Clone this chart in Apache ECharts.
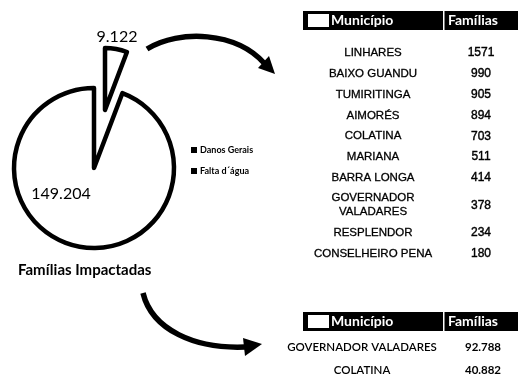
<!DOCTYPE html>
<html>
<head>
<meta charset="utf-8">
<script src="https://cdn.jsdelivr.net/npm/echarts@6/dist/echarts.min.js"></script>
<style>html,body{margin:0;padding:0;background:#fff;}#c{width:518px;height:384px;}</style>
</head>
<body>
<div id="c"></div>
<script>
// ---- data ----
const sliceNames = ['Falta d\u00b4\u00e1gua', 'Danos Gerais'];
const sliceValues = [9122, 149204];
const legendOrder = ['Danos Gerais', 'Falta d\u00b4\u00e1gua'];
const chartTitle = 'Fam\u00edlias Impactadas';

const headerCols = ['Munic\u00edpio', 'Fam\u00edlias'];
const topMunicipios = ['LINHARES', 'BAIXO GUANDU', 'TUMIRITINGA', 'AIMOR\u00c9S', 'COLATINA', 'MARIANA', 'BARRA LONGA', 'GOVERNADOR\nVALADARES', 'RESPLENDOR', 'CONSELHEIRO PENA'];
const topFamilias = [1571, 990, 905, 894, 703, 511, 414, 378, 234, 180];
const bottomMunicipios = ['GOVERNADOR VALADARES', 'COLATINA'];
const bottomFamilias = [92788, 40882];

function fmt(v) { return String(v).replace(/\B(?=(\d{3})+(?!\d))/g, '.'); }

const chart = echarts.init(document.getElementById('c'), null, {renderer: 'canvas'});

const hidden = {color: 'rgba(0,0,0,0)', borderWidth: 0};
const shown = {color: '#fff', borderColor: '#000', borderWidth: 4.5};
const numFont = {fontFamily: 'Lato', fontSize: 16, color: '#000'};

function pieData(visibleIdx) {
  return sliceNames.map((n, i) => ({
    name: n, value: sliceValues[i],
    itemStyle: i === visibleIdx ? shown : hidden,
    label: i === visibleIdx ? Object.assign({show: true, position: 'center', formatter: p => fmt(p.value)}, numFont) : {show: false}
  }));
}

// ---- table graphics ----
const g = [];
function header(top, left) {
  g.push({type: 'rect', shape: {x: left, y: top, width: 518 - left, height: 19}, style: {fill: '#000'}});
  g.push({type: 'rect', shape: {x: 308, y: top + 3, width: 21, height: 13}, style: {fill: '#fff'}});
  g.push({type: 'rect', shape: {x: 443, y: top, width: 1.5, height: 19}, style: {fill: '#fff'}});
  g.push({type: 'text', x: 331, y: top + 9.5, style: {text: headerCols[0], fill: '#fff', font: 'bold 14px Lato', verticalAlign: 'middle'}});
  g.push({type: 'text', x: 448, y: top + 9.5, style: {text: headerCols[1], fill: '#fff', font: 'bold 14px Lato', verticalAlign: 'middle'}});
}
header(11, 303);
let y = 53, prevH = 0;
topMunicipios.forEach((m, i) => {
  const h = m.indexOf('\n') >= 0 ? 34 : 20.8;
  if (i > 0) y += (prevH + h) / 2;
  prevH = h;
  g.push({type: 'text', x: 373, y: y, style: {text: m, fill: '#000', font: '11.5px "Liberation Sans"', align: 'center', verticalAlign: 'middle', lineHeight: 14, stroke: '#000', lineWidth: 0.3}});
  g.push({type: 'text', x: 481, y: y, style: {text: String(topFamilias[i]), fill: '#000', font: '12px "Liberation Sans"', align: 'center', verticalAlign: 'middle', stroke: '#000', lineWidth: 0.4}});
});
header(312, 303);
bottomMunicipios.forEach((m, i) => {
  const yy = 347 + i * 23;
  g.push({type: 'text', x: 362, y: yy, style: {text: m, fill: '#000', font: '600 11.5px Lato', align: 'center', verticalAlign: 'middle'}});
  g.push({type: 'text', x: 483, y: yy, style: {text: fmt(bottomFamilias[i]), fill: '#000', font: 'bold 11.5px Lato', align: 'center', verticalAlign: 'middle'}});
});
// arrows
g.push({type: 'bezierCurve', shape: {x1: 147, y1: 49, cpx1: 180, cpy1: 29, cpx2: 236, cpy2: 32, x2: 264, y2: 63}, style: {stroke: '#000', lineWidth: 5.5, fill: null}});
g.push({type: 'polygon', shape: {points: [[275, 74], [258, 68], [269, 56]]}, style: {fill: '#000'}});
g.push({type: 'bezierCurve', shape: {x1: 143, y1: 293, cpx1: 152, cpy1: 330, cpx2: 195, cpy2: 349, x2: 245, y2: 347}, style: {stroke: '#000', lineWidth: 5.5, fill: null}});
g.push({type: 'polygon', shape: {points: [[262, 344], [243, 338], [245, 356]]}, style: {fill: '#000'}});

chart.setOption({
  animation: false,
  title: {text: chartTitle, left: 18, top: 263, padding: 0, textStyle: {fontFamily: 'Lato', fontWeight: 'bold', fontSize: 15, color: '#000'}},
  legend: {
    orient: 'vertical', left: 191, top: 145, itemWidth: 6, itemHeight: 6, itemGap: 11, padding: 0,
    icon: 'rect',
    data: legendOrder.map(n => ({name: n, itemStyle: {color: '#000', borderWidth: 0}})),
    textStyle: {fontFamily: 'Lato', fontWeight: 'bold', fontSize: 9, color: '#000', lineHeight: 10, padding: [0, 0, 0, -2]},
    selectedMode: false
  },
  series: [
    {type: 'pie', center: [94, 168], radius: 80, startAngle: 90, clockwise: true, silent: true,
     avoidLabelOverlap: false, labelLine: {show: false}, emphasis: {disabled: true},
     label: {show: false}, labelLayout: {x: 61, y: 194, align: 'center', verticalAlign: 'middle'},
     data: pieData(1)},
    {type: 'pie', center: [105, 110], radius: 62, startAngle: 90, clockwise: true, silent: true,
     avoidLabelOverlap: false, labelLine: {show: false}, emphasis: {disabled: true},
     label: {show: false}, labelLayout: {x: 117, y: 37, align: 'center', verticalAlign: 'middle'},
     data: pieData(0)}
  ],
  graphic: g
});
</script>
</body>
</html>
